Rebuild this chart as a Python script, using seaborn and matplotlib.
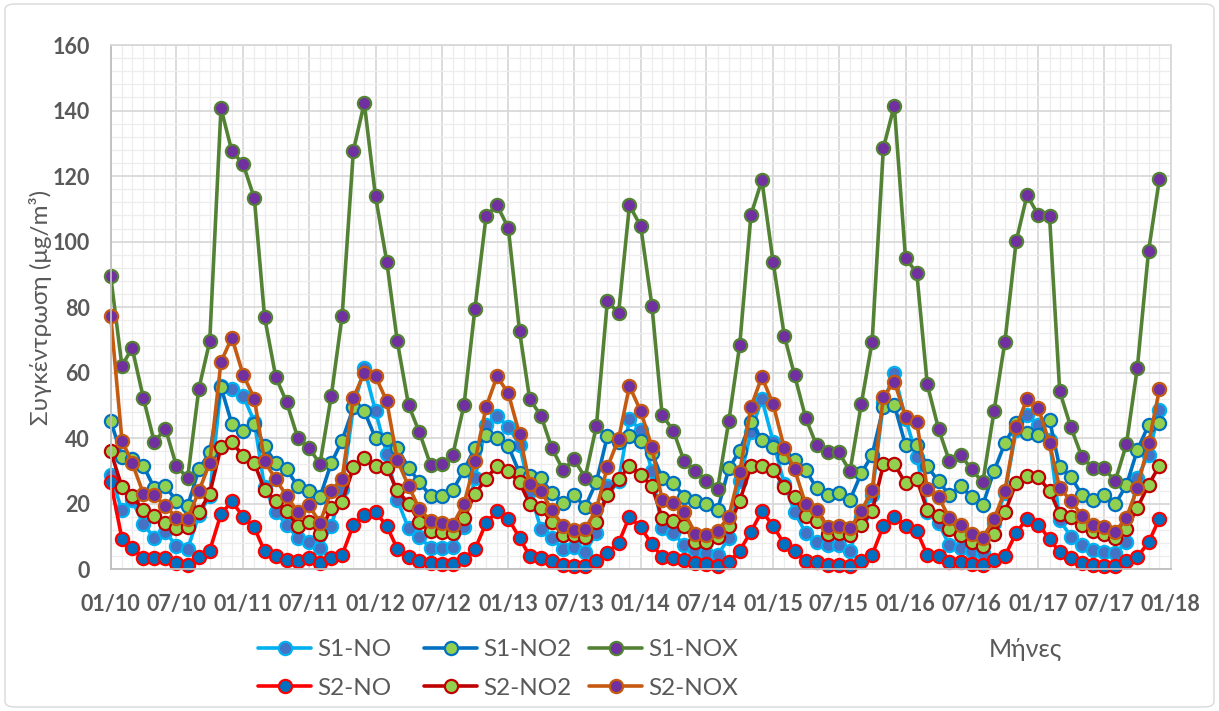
import matplotlib
matplotlib.use("Agg")
import matplotlib.pyplot as plt
import matplotlib.dates as mdates
from matplotlib.ticker import MultipleLocator
from matplotlib.patches import FancyBboxPatch
import pandas as pd
import seaborn as sns

# Monthly means, Jan 2010 - Dec 2017
months = pd.date_range("2010-01-01", periods=96, freq="MS")

s1_no = [28.7, 18, 21, 13.8, 9.6, 11.3, 7.2, 6.2, 16.5, 22.5,
         56, 55, 53, 45, 25, 17.5, 13.6, 9.5, 8.2, 6.4,
         13.3, 24.5, 49.5, 61.5, 48.2, 35.2, 21.2, 12.5, 10, 6.4,
         6.4, 6.9, 13, 27.8, 44, 46.8, 43.5, 38, 24, 12.3,
         9.5, 6.2, 6.9, 5.4, 11, 25.5, 27, 45.8, 42.5, 30,
         12.5, 11, 7.4, 5.9, 5.1, 4.4, 9.5, 27, 42, 52,
         39, 26, 17.6, 11, 8.4, 7.4, 7.4, 5.7, 16, 22.7,
         51, 59.8, 46, 34.4, 17.6, 14, 7.4, 6.4, 5.7, 4.9,
         14, 23.2, 42.5, 47.1, 44, 39.5, 15, 10, 7.4, 5.9,
         5.4, 4.9, 8.4, 28, 35, 48.6]

s1_no2 = [45.3, 34.4, 33.8, 31.6, 24.8, 25.3, 20.9, 19.3, 30.5, 35.7,
          55.6, 44.4, 42.2, 44.4, 37.6, 32.4, 30.5, 25.3, 24, 22.1,
          32.4, 39.3, 49.4, 48.3, 40, 39.8, 37.1, 31, 26.6, 22.3,
          22.3, 24.1, 30.3, 37.1, 40.9, 40, 37.6, 29.4, 28.6, 27.8,
          23.2, 20.2, 22.6, 19.1, 26.7, 40.6, 38.7, 40.6, 39.3, 35.5,
          27.8, 26.2, 22.2, 20.7, 19.9, 18.1, 30.8, 36.2, 45.1, 39.5,
          37.2, 34.4, 33.4, 30.3, 24.7, 22.7, 23.2, 21.2, 29.3, 34.9,
          49.5, 50.2, 37.9, 37.9, 31.5, 26.8, 22.7, 25.4, 22, 19.6,
          30, 38.5, 44.6, 41.5, 41, 45.6, 31.1, 28.3, 22.7, 21.2,
          22.7, 19.9, 25.7, 36.4, 44, 44.6]

s1_nox = [89.4, 62, 67.6, 52.3, 38.9, 42.9, 31.6, 27.8, 55.1, 69.6,
          140.7, 127.6, 123.7, 113.2, 77.1, 58.7, 51, 40, 37.1, 32.2,
          52.9, 77.4, 127.8, 142.3, 113.8, 93.9, 69.6, 50.1, 41.8, 31.8,
          32.1, 34.9, 50.2, 79.5, 107.9, 111.1, 104.2, 72.7, 51.9, 46.9,
          37, 30.3, 33.6, 28, 43.8, 81.8, 78.2, 111.1, 104.7, 80.4,
          47.1, 42.3, 32.9, 29.9, 27, 24.6, 45.3, 68.5, 108.2, 118.7,
          93.8, 71.2, 59.3, 46.1, 37.8, 35.7, 35.7, 29.9, 50.4, 69.5,
          128.6, 141.5, 94.9, 90.5, 56.4, 42.9, 33, 34.9, 30.5, 26.5,
          48.3, 69.5, 100.1, 114.2, 108.1, 107.8, 54.3, 43.3, 34.4, 30.8,
          30.8, 26.9, 38.2, 61.5, 97.2, 119.2]

s2_no = [26.7, 9.3, 6.5, 3.5, 3.6, 3.3, 2, 1.4, 3.8, 5.7,
         16.9, 20.7, 16.1, 12.8, 5.5, 4.1, 2.9, 2.5, 3.3, 2,
         3.5, 4.4, 13.6, 16.7, 17.5, 13.2, 6.3, 3.7, 2.5, 1.9,
         1.6, 1.6, 3.2, 6.1, 14.2, 17.7, 15.5, 9.6, 4, 3.5,
         2.4, 1.4, 1.1, 1.1, 2.4, 5.1, 8, 16.1, 12.8, 7.6,
         3.8, 3.5, 2.9, 1.9, 1.6, 1.1, 2.2, 5.7, 11.5, 17.7,
         13.3, 7.6, 5.5, 2.5, 2.2, 1.4, 1.3, 1.1, 2.5, 4.4,
         13.3, 16.1, 13.3, 11.7, 4.4, 4.1, 2.2, 2.2, 1.6, 1.4,
         2.7, 4.1, 11.1, 15.5, 13.6, 9.3, 5.2, 3.6, 2, 1.4,
         1.1, 1.1, 2.5, 3.8, 8.2, 15.5]

s2_no2 = [36, 25.1, 22.4, 18, 16.4, 14.2, 12.5, 12.8, 17.4, 23.1,
          37.3, 38.7, 34.7, 32.4, 24.3, 20.7, 17.7, 13.3, 14.4, 10.9,
          18.8, 20.5, 31.1, 34, 31.5, 31, 24.1, 20, 14.4, 11.8,
          11.3, 11.2, 15.7, 23, 27.6, 31.6, 30, 26.5, 20, 18.8,
          14.4, 10.6, 10.4, 10, 14.4, 22.7, 27.5, 31.4, 28.9, 25.3,
          15.8, 14.7, 13.1, 8.4, 8.2, 9.8, 13.1, 20.9, 31.4, 31.4,
          30.3, 25.1, 22, 16.4, 14.7, 10.7, 11.1, 10.4, 13.6, 17.7,
          32, 32.2, 26.2, 27.5, 18, 16.2, 12.2, 10.6, 8.2, 7.1,
          10.7, 17.4, 26.4, 28.4, 28.1, 24, 16.9, 16, 13.6, 11.7,
          10.9, 9.6, 12.3, 18.8, 25.8, 31.6]

s2_nox = [77.4, 39.3, 32.5, 23.1, 22.6, 19.3, 15.8, 15.5, 23.8, 32.5,
          63.3, 70.7, 59.4, 52.1, 32.9, 27.5, 22.4, 17.4, 19.6, 14.2,
          24, 27.7, 52.3, 60, 58.9, 51.3, 33.3, 25.4, 18.4, 14.8,
          14.2, 13.6, 20, 32.9, 49.6, 58.9, 53.7, 41.2, 26, 24,
          18, 13.3, 12, 12.3, 18.5, 31.1, 39.8, 55.9, 48.3, 37.3,
          21, 20.2, 17.4, 10.9, 10.6, 11.7, 16.1, 29.8, 49.6, 58.7,
          50.4, 36.9, 30.5, 19.8, 18, 12.8, 13.3, 12.5, 17.8, 24.2,
          52.6, 57.3, 46.6, 45, 24.5, 22.1, 15.6, 13.6, 10.9, 9.6,
          15.3, 24, 43.4, 52.1, 49.3, 38.4, 24.8, 20.9, 16.4, 13.4,
          12.8, 11.5, 15.8, 24.8, 38.4, 54.9]

series_names = ["S1-NO", "S1-NO2", "S1-NOX", "S2-NO", "S2-NO2", "S2-NOX"]
series_values = [s1_no, s1_no2, s1_nox, s2_no, s2_no2, s2_nox]

# line colour, marker fill
styles = {
    "S1-NO":  ("#00B0F0", "#4472C4"),
    "S1-NO2": ("#0070C0", "#92D050"),
    "S1-NOX": ("#548235", "#7030A0"),
    "S2-NO":  ("#FF0000", "#0070C0"),
    "S2-NO2": ("#C00000", "#92D050"),
    "S2-NOX": ("#C55A11", "#7030A0"),
}

sns.set_theme(style="white")
plt.rcParams["font.family"] = ["Lato", "DejaVu Sans"]
TXT = "#595959"

fig = plt.figure(figsize=(12.19, 7.11), dpi=100)
W, H = 1219, 711
ax = fig.add_axes([110.7 / W, 1 - 569.3 / H, 1060 / W, (569.3 - 45) / H])

for name, vals in zip(series_names, series_values):
    line_c, face_c = styles[name]
    df = pd.DataFrame({"month": months, "value": vals})
    sns.lineplot(data=df, x="month", y="value", ax=ax, color=line_c,
                 linewidth=2.6, marker="o", markersize=9.5,
                 markerfacecolor=face_c, markeredgecolor=line_c,
                 markeredgewidth=1.6, label=name, clip_on=False,
                 legend=False)

ax.set_xlim(pd.Timestamp("2010-01-01"), pd.Timestamp("2018-01-01"))
ax.set_ylim(0, 160)
ax.yaxis.set_major_locator(MultipleLocator(20))
ax.yaxis.set_minor_locator(MultipleLocator(4))
ax.xaxis.set_major_locator(mdates.MonthLocator(bymonth=[1, 7]))
ax.xaxis.set_minor_locator(mdates.MonthLocator())
ax.xaxis.set_major_formatter(mdates.DateFormatter("%m/%y"))

ax.set_axisbelow(True)
ax.grid(which="major", color="#D9D9D9", linewidth=1.3)
ax.grid(which="minor", color="#EDEDED", linewidth=0.9)
for side, sp in ax.spines.items():
    sp.set_visible(True)
    sp.set_color("#BFBFBF" if side in ("left", "bottom") else "#D9D9D9")
    sp.set_linewidth(1.3)

ax.tick_params(axis="both", which="both", length=0)
ax.tick_params(axis="x", pad=18, labelsize=15.5, labelcolor=TXT)
ax.tick_params(axis="y", pad=15, labelsize=15.5, labelcolor=TXT)
for lab in ax.get_xticklabels() + ax.get_yticklabels():
    lab.set_fontweight("bold")

ax.set_xlabel("")
ax.set_ylabel("Συγκέντρωση (μg/m³)", fontsize=17.5, color=TXT)
ax.yaxis.set_label_coords(-0.055, 0.5)

# Legend: three columns, two rows
handles = {ln.get_label(): ln for ln in ax.get_lines()}
col_x = [258, 424, 589]
for i, x0 in enumerate(col_x):
    pair = [handles[series_names[i]], handles[series_names[i + 3]]]
    fig.legend(pair, [h.get_label() for h in pair], loc="upper left",
               bbox_to_anchor=(x0 / W, 1 - 639 / H), frameon=False,
               fontsize=17.5, labelcolor=TXT, handlelength=2.2,
               handletextpad=0.25, borderpad=0, borderaxespad=0,
               labelspacing=0.72, numpoints=1)

fig.text(1025 / W, 1 - 649 / H, "Μήνες", ha="center", va="center",
         fontsize=18, color=TXT)

fig.patches.append(FancyBboxPatch((5 / W, 4 / H), 1209 / W, 703 / H,
                                  boxstyle="round,pad=0,rounding_size=0.008",
                                  transform=fig.transFigure, facecolor="none",
                                  edgecolor="#D9D9D9", linewidth=1.0))

fig.savefig("out.png", dpi=100, facecolor="white")
